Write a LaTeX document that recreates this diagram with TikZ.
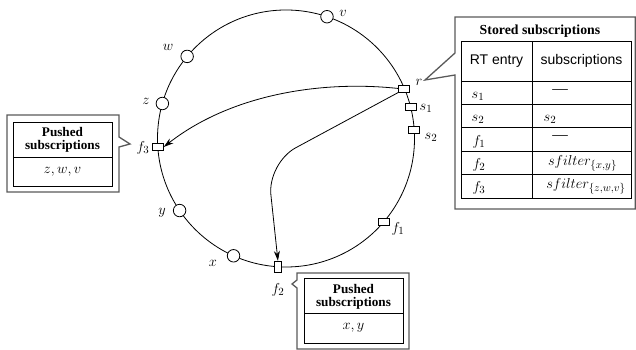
\documentclass[tikz,border=0pt]{standalone}
\usepackage{fontspec}
\setmainfont{Liberation Serif}
\setsansfont{Liberation Sans}
\usetikzlibrary{arrows.meta,calc}
\begin{document}
\begin{tikzpicture}[x=1pt,y=1pt,
  peer/.style={circle,draw,fill=white,inner sep=0pt,minimum size=12.5pt,line width=0.8pt},
  entry/.style={rectangle,draw,fill=white,inner sep=0pt,minimum width=11pt,minimum height=7pt,line width=0.8pt},
  lbl/.style={inner sep=0pt,font=\fontsize{15}{17}\selectfont},
  cell/.style={inner sep=0pt,font=\fontsize{15.5}{17}\selectfont},
  head/.style={inner sep=0pt,font=\fontsize{14}{16}\selectfont\sffamily},
  ttl/.style={inner sep=0pt,font=\fontsize{13.8}{15}\selectfont\bfseries},
  pttl/.style={inner sep=0pt,align=center,font=\fontsize{13.2}{13.5}\selectfont\bfseries},
  frame/.style={draw=black!65,line width=1.3pt,line join=miter},
  inner/.style={draw=black,line width=0.8pt},
  link/.style={line width=0.8pt,-{Stealth[length=10pt,width=6pt]}},
]
\useasboundingbox (0,0) rectangle (636,350);

% the ring
\coordinate (c) at (286,211.5);
\draw[line width=0.8pt] (c) circle[radius=128.5pt];

% subscribers (circles) and routing-table entries (boxes)
\node[peer]  (v)  at ($(c)+(71.4:128.5)$)  {};
\node[peer]  (w)  at ($(c)+(140.3:128.5)$) {};
\node[peer]  (z)  at ($(c)+(164.2:128.5)$) {};
\node[entry] (f3) at ($(c)+(183.8:128.5)$) {};
\node[peer]  (y)  at ($(c)+(214.1:128.5)$) {};
\node[peer]  (x)  at ($(c)+(245.9:128.5)$) {};
\node[entry,minimum width=7pt,minimum height=11pt] (f2) at ($(c)+(266.4:128.5)$) {};
\node[entry] (f1) at ($(c)+(319.8:128.5)$) {};
\node[entry] (s2) at ($(c)+(3.9:128.5)$)   {};
\node[entry] (s1) at ($(c)+(14.4:128.5)$)  {};
\node[entry] (r)  at ($(c)+(22.9:128.5)$)  {};

% labels
\node[lbl] (lv)  at (343,337) {$v$};
\node[lbl] (lw)  at (168,303) {$w$};
\node[lbl] (lz)  at (146,249) {$z$};
\node[lbl] (lf3) at (143,202) {$f_3$};
\node[lbl] (ly)  at (162,137) {$y$};
\node[lbl] (lx)  at (213,87)  {$x$};
\node[lbl] (lf2) at (278,60)  {$f_2$};
\node[lbl] (lf1) at (398,121) {$f_1$};
\node[lbl] (ls2) at (431,213) {$s_2$};
\node[lbl] (ls1) at (426,242) {$s_1$};
\node[lbl] (lr)  at (419,268) {$r$};

% pushed subscriptions
\draw[link] (r.west) .. controls (320,270) and (230,255) .. (f3.east);
\draw[link,rounded corners=32pt] (r.south west) -- (267.5,187) -- (f2.north);

% stored subscriptions callout
\draw[frame] (455,297) -- (455,333) -- (635.3,333) -- (635.3,141) -- (455,141) -- (455,275) -- (425,270) -- cycle;
\node[ttl] (sttl) at (540,319) {Stored subscriptions};
\draw[inner] (461,152) rectangle (631,309);
\draw[inner] (532,152) -- (532,309);
\foreach \yy in {269,246,223,199,176} \draw[inner] (461,\yy) -- (631,\yy);
\node[head] (h1) at (496.5,289) {RT entry};
\node[head] (h2) at (581.5,289) {subscriptions};
\node[cell] (t1a) at (478,254) {$s_1$};
\node[cell] (t2a) at (478,231) {$s_2$};
\node[cell] (t3a) at (479,208) {$f_1$};
\node[cell] (t4a) at (479,185) {$f_2$};
\node[cell] (t5a) at (479,162) {$f_3$};
\node[cell] (t1b) at (560,258) {---};
\node[cell] (t2b) at (550,231) {$s_2$};
\node[cell] (t3b) at (560,212) {---};
\node[cell] (t4b) at (582.5,187) {$sfilter_{\{x,y\}}$};
\node[cell] (t5b) at (586,164) {$sfilter_{\{z,w,v\}}$};

% pushed subscriptions at f3
\draw[frame] (119,213) -- (119,235) -- (7,235) -- (7,158) -- (119,158) -- (119,203) -- (130,206) -- cycle;
\draw[inner] (13,164) rectangle (112,228);
\draw[inner] (13,193) -- (112,193);
\node[pttl] (p3t) at (62.5,210) {Pushed\\subscriptions};
\node[cell] (p3c) at (62.5,178) {$z,w,v$};

% pushed subscriptions at f2
\draw[frame] (297,70) -- (297,77) -- (409,77) -- (409,1) -- (297,1) -- (297,62) -- (292,66) -- cycle;
\draw[inner] (304,7) rectangle (403,72);
\draw[inner] (304,37) -- (403,37);
\node[pttl] (p2t) at (353.5,53) {Pushed\\subscriptions};
\node[cell] (p2c) at (353.5,22) {$x,y$};
\end{tikzpicture}
\end{document}
